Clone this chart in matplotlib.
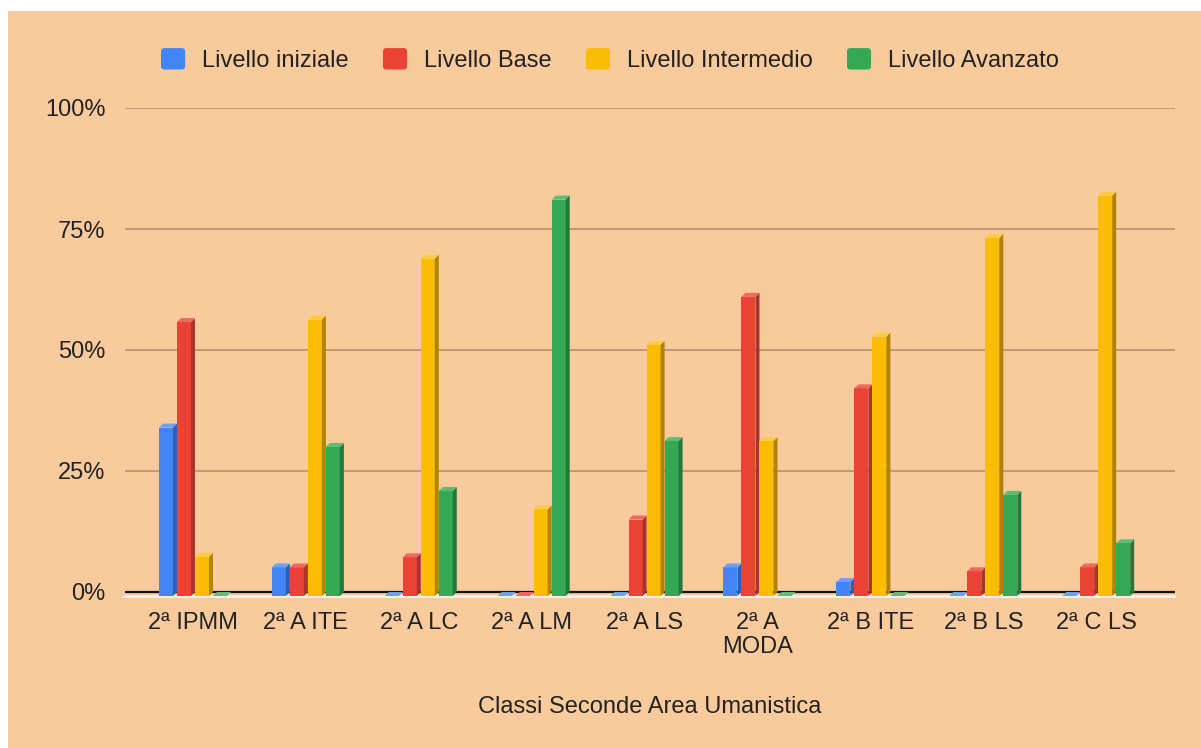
import matplotlib
matplotlib.use("Agg")
import matplotlib.pyplot as plt
from matplotlib.patches import Polygon, Rectangle, FancyBboxPatch, Patch
from matplotlib.legend_handler import HandlerPatch
from matplotlib.ticker import FuncFormatter
import numpy as np

plt.rcParams['font.family'] = ['Liberation Sans', 'DejaVu Sans']

categories = ["2ª IPMM", "2ª A ITE", "2ª A LC", "2ª A LM", "2ª A LS",
              "2ª A\nMODA", "2ª B ITE", "2ª B LS", "2ª C LS"]
series_names = ["Livello iniziale", "Livello Base", "Livello Intermedio", "Livello Avanzato"]
iniziale = [34.8, 5.9, 0.0, 0.0, 0.0, 5.9, 2.9, 0.0, 0.0]
base = [56.6, 5.9, 8.0, 0.0, 15.8, 61.8, 42.9, 5.1, 5.9]
intermedio = [8.1, 57.1, 69.7, 17.9, 51.9, 32.0, 53.6, 74.0, 82.7]
avanzato = [0.0, 30.8, 21.7, 81.9, 32.0, 0.0, 0.0, 20.9, 10.9]
yticks = [0, 25, 50, 75, 100]

colors = ["#4285F4", "#EA4335", "#FBBC04", "#34A853"]
side_colors = ["#2C5FB5", "#A9342B", "#B08400", "#23773B"]
top_colors = ["#6AA0F7", "#EF6A5E", "#FCCB3F", "#5DBB78"]
bg = "#F9CB9C"
text_color = "#222222"
fs = 17

W, H = 1201, 748
fig = plt.figure(figsize=(W / 100, H / 100), dpi=100)
fig.patch.set_facecolor("white")
fig.patches.append(Rectangle((8 / W, 0), 1 - 8 / W, 1 - 11 / H, transform=fig.transFigure,
                             facecolor=bg, edgecolor="none", zorder=-10))

ymin, ymax = -2.0, 100.0
px_per_unit_y = 484 / 100.0
ax_left, ax_right = 125, 1175
ax_top = 108
ax_bottom = 592 + (-ymin) * px_per_unit_y
ax = fig.add_axes([ax_left / W, 1 - ax_bottom / H, (ax_right - ax_left) / W, (ax_bottom - ax_top) / H])
ax.set_zorder(5)
ax.set_facecolor("none")
ax.set_xlim(-0.602, 8.698)
ax.set_ylim(ymin, ymax)

# convert pixel sizes to data units via the axes transform
p0 = ax.transData.transform((0, 0))
p1 = ax.transData.transform((1, 1))
px_x = p1[0] - p0[0]
px_y = p1[1] - p0[1]
pitch = 18 / px_x
w = 14 / px_x
dx = 4 / px_x
dy = 4 / px_y

for s in ax.spines.values():
    s.set_visible(False)

for yv in yticks[1:]:
    ax.axhline(yv, color="#B08A68", lw=1.1, zorder=1)

# floor strip and baseline
xl0, xr0 = ax.get_xlim()
ax.add_patch(Polygon([(xl0 - 4 / px_x, -6 / px_y), (xr0 + 1 / px_x, -6 / px_y),
                      (xr0 + 1 / px_x, -2.5 / px_y), (xl0, -2.5 / px_y)],
                     closed=True, facecolor="#F4EEE8", edgecolor="none", zorder=1, clip_on=False))
ax.axhline(0, color="#111111", lw=1.6, zorder=2)

x = np.arange(len(categories))
all_series = [iniziale, base, intermedio, avanzato]
for i, vals in enumerate(all_series):
    xs = x + (i - 1.5) * pitch
    vals = np.array(vals, dtype=float)
    ax.bar(xs, vals, width=w, bottom=-dy, color=colors[i], edgecolor="none", zorder=3)
    for xc, v in zip(xs, vals):
        xl = xc - w / 2
        xr = xc + w / 2
        ax.add_patch(Polygon([(xr, -dy), (xr + dx, 0), (xr + dx, v), (xr, v - dy)], closed=True,
                             facecolor=side_colors[i], edgecolor="none", zorder=3))
        ax.add_patch(Polygon([(xl, v - dy), (xr, v - dy), (xr + dx, v), (xl + dx, v)], closed=True,
                             facecolor=top_colors[i], edgecolor="none", zorder=3))

ax.set_yticks(yticks)
ax.yaxis.set_major_formatter(FuncFormatter(lambda v, p: f"{int(v)}%"))
ax.set_xticks(x)
ax.set_xticklabels(categories)
ax.tick_params(axis="both", length=0, labelsize=fs, labelcolor=text_color)
ax.tick_params(axis="y", pad=14)
ax.tick_params(axis="x", pad=7.5)
for t in ax.get_xticklabels():
    t.set_linespacing(1.12)

ax.set_xlabel("Classi Seconde Area Umanistica", fontsize=fs, color=text_color)
ax.xaxis.set_label_coords(0.5, (ax_bottom - 707) / (ax_bottom - ax_top))
ax.xaxis.label.set_va("center")


def make_square(legend, orig_handle, xdescent, ydescent, width, height, fontsize):
    return FancyBboxPatch((-xdescent + 1.5, -ydescent + 1.5), width - 3, height - 3,
                          boxstyle="round,pad=1.5,rounding_size=2.5")


handles = [Patch(facecolor=c, edgecolor="none") for c in colors]
leg = fig.legend(handles, series_names, loc="center", bbox_to_anchor=(610 / W, 1 - 60 / H),
                 ncol=4, frameon=False, fontsize=fs, handlelength=1.02, handleheight=1.02,
                 handletextpad=0.72, columnspacing=1.45,
                 handler_map={Patch: HandlerPatch(patch_func=make_square)})
for t in leg.get_texts():
    t.set_color(text_color)

fig.savefig("out.png", dpi=100, facecolor=fig.get_facecolor())
